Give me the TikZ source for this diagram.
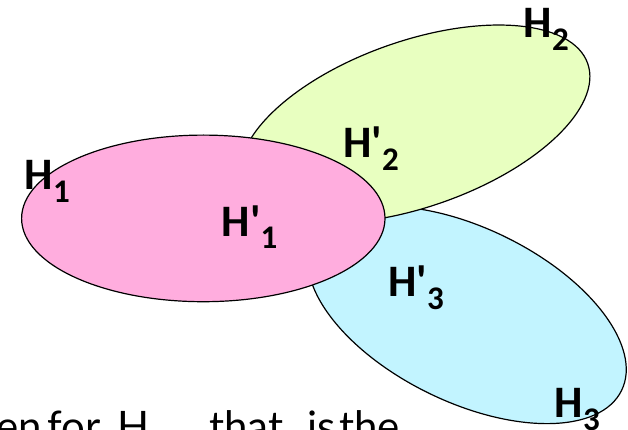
\documentclass[tikz,border=0pt]{standalone}
\usepackage{fontspec}
\newfontfamily\lblfont{Carlito}[Ligatures=TeXOff]
\newfontfamily\txtfont{Lato}
\definecolor{pinkfill}{RGB}{255,173,222}
\definecolor{greenfill}{RGB}{232,255,192}
\definecolor{cyanfill}{RGB}{194,244,255}
\newcommand\hsub[1]{\raisebox{-13pt}{\fontsize{33}{33}\selectfont #1}}
\begin{document}
\begin{tikzpicture}[x=1pt,y=-1pt,
  setline/.style={draw=black,line width=1.2pt},
  lab/.style={anchor=base west,inner sep=0pt,font=\lblfont\bfseries\fontsize{45}{45}\selectfont},
  word/.style={anchor=base west,inner sep=0pt,font=\txtfont\fontsize{42}{42}\selectfont}]
\useasboundingbox (0,0) rectangle (628,430);
\filldraw[setline, fill=cyanfill, shift={(467,315)}, rotate=-26] (0,0) ellipse [x radius=172pt, y radius=87pt];
\filldraw[setline, fill=greenfill, shift={(415,124)}, rotate=19.3] (0,0) ellipse [x radius=183pt, y radius=83pt];
\filldraw[setline, fill=pinkfill] (203.3,218.4) ellipse [x radius=181.7pt, y radius=83.3pt];
\node[lab] (h1) at (24.5,190) {H\hsub{1}};
\node[lab] (hp1) at (221.5,236) {H'\hsub{1}};
\node[lab] (hp2) at (343,158) {H'\hsub{2}};
\node[lab] (h2) at (523.5,38) {H\hsub{2}};
\node[lab] (hp3) at (388,296) {H'\hsub{3}};
\node[lab] (h3) at (554.5,417) {H\hsub{3}};
\node[word] (w1) at (-4,441) {en};
\node[word] (w2) at (47,441) {for};
\node[word] (w3) at (117,441) {H};
\node[word] (w4) at (209,441) {that};
\node[word] (w5) at (307,441) {is};
\node[word] (w6) at (339,441) {the};
\end{tikzpicture}
\end{document}
